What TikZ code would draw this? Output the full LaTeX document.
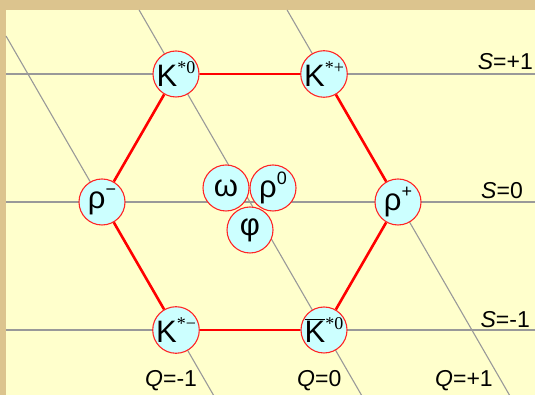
\documentclass[tikz,border=0pt]{standalone}
\usepackage{fontspec}
\setmainfont{Liberation Sans}
\newfontfamily\supfont{Liberation Serif}
\usepackage{tikz}

\definecolor{parch}{HTML}{DCC48E}
\definecolor{paper}{HTML}{FFFFCC}
\definecolor{mesonfill}{HTML}{CCFFFF}
\definecolor{gridgray}{HTML}{999999}

\newcommand{\hi}[1]{\raisebox{.75ex}{\fontsize{18}{18}\selectfont #1}}

\begin{document}
\begin{tikzpicture}[x=1pt,y=1pt,
  meson/.style={circle,draw=red!85!white,line width=1.1pt,fill=mesonfill,
    minimum size=46pt,inner sep=0pt,font=\fontsize{31}{31}\selectfont},
  gridline/.style={draw=gridgray,line width=1.1pt},
  octet/.style={draw=red,line width=2.6pt},
  axislabel/.style={inner sep=0pt,font=\fontsize{23}{23}\selectfont}]
\useasboundingbox (0,0) rectangle (535,395);
\fill[parch] (-5,-5) rectangle (545,400);
\fill[paper] (6,-5) rectangle (545,385);
% strangeness lines
\foreach \nn/\yy in {top/321,mid/193,bot/65}{
\coordinate (s-\nn-w) at (6,\yy);
\coordinate (s-\nn-e) at (540,\yy);
\draw[gridline] (s-\nn-w) -- (s-\nn-e);}
% charge lines
\foreach \nn/\xa/\ya/\xb in {m/6/359/216.3,z/139.1/385/364.3,p/287.1/385/512.3}{
\coordinate (q-\nn-n) at (\xa,\ya);
\coordinate (q-\nn-s) at (\xb,-5);
\draw[gridline] (q-\nn-n) -- (q-\nn-s);}
% mesons
\node[meson] (kz) at (176,321) {K\hi{\supfont*0}};
\node[meson] (kp) at (324,321) {K\hi{\supfont*+}};
\node[meson] (rm) at (102,193) {ρ\hi{−}};
\node[meson] (rp) at (398,193) {ρ\hi{+}};
\node[meson] (km) at (176,65) {K\hi{\supfont*−}};
\node[meson] (kbz) at (324,65) {$\overline{\hbox{K}}$\hi{\supfont*0}};
\node[meson] (om) at (226,207) {ω};
\node[meson] (rz) at (273,207) {ρ\hi{0}};
\node[meson] (ph) at (250,165) {φ};
\draw[octet] (kz) -- (kp);
\draw[octet] (kp) -- (rp);
\draw[octet] (rp) -- (kbz);
\draw[octet] (kbz) -- (km);
\draw[octet] (km) -- (rm);
\draw[octet] (rm) -- (kz);
% labels
\node[axislabel,anchor=base east] (lsp) at (533,325) {\textit{S}=+1};
\node[axislabel,anchor=base east] (lsz) at (523,196) {\textit{S}=0};
\node[axislabel,anchor=base east] (lsm) at (530,67) {\textit{S}=-1};
\node[axislabel,anchor=base west] (lqm) at (145,8) {\textit{Q}=-1};
\node[axislabel,anchor=base west] (lqz) at (297,8) {\textit{Q}=0};
\node[axislabel,anchor=base west] (lqp) at (435,8) {\textit{Q}=+1};
\end{tikzpicture}
\end{document}
